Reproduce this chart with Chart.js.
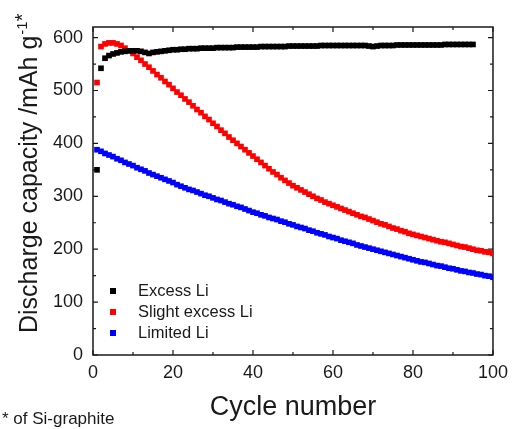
<!DOCTYPE html>
<html>
<head>
<meta charset="utf-8">
<script src="https://cdn.jsdelivr.net/npm/chart.js@4/dist/chart.umd.min.js"></script>
<style>
  body { margin: 0; background: #fff; }
</style>
</head>
<body>
<canvas id="grafico" width="515" height="429"></canvas>
<script>
// capacidade de descarga por ciclo (mAh/g), ciclo 1 = primeira posição
const EXCESS_LI = [
  350, 542, 561, 566, 569, 571, 573, 574, 575, 575,
  575, 574, 572, 570, 572, 573, 574, 575, 576, 577,
  577, 578, 578, 579, 579, 579, 580, 580, 580, 580,
  581, 581, 581, 581, 581, 582, 582, 582, 582, 582,
  582, 583, 583, 583, 583, 583, 583, 583, 584, 584,
  584, 584, 584, 584, 584, 584, 585, 585, 585, 585,
  585, 585, 585, 585, 585, 585, 585, 585, 584, 583,
  584, 585, 585, 585, 585, 586, 586, 586, 586, 586,
  586, 586, 586, 586, 586, 586, 586, 587, 587, 587,
  587, 587, 587, 587, 587
];
const SLIGHT_EXCESS_LI = [
  515, 583, 588, 590, 590, 588, 585, 580, 575, 570,
  563, 557, 550, 544, 537, 530, 524, 517, 511, 504,
  497, 491, 484, 478, 471, 464, 458, 451, 445, 438,
  432, 425, 419, 412, 406, 400, 394, 388, 382, 376,
  370, 364, 358, 352, 346, 341, 335, 330, 325, 320,
  316, 312, 308, 304, 300, 296, 293, 289, 286, 283,
  280, 277, 274, 271, 268, 265, 262, 260, 257, 254,
  251, 248, 246, 243, 240, 238, 235, 233, 230, 228,
  226, 224, 222, 220, 218, 216, 214, 213, 211, 209,
  207, 205, 204, 202, 200, 198, 197, 195, 194, 192
];
const LIMITED_LI = [
  388, 385, 381, 378, 375, 371, 368, 364, 361, 358,
  354, 351, 348, 344, 341, 338, 335, 332, 329, 326,
  322, 319, 316, 313, 311, 308, 305, 302, 300, 297,
  294, 292, 289, 286, 284, 281, 279, 276, 273, 270,
  268, 265, 263, 260, 258, 256, 253, 251, 248, 246,
  243, 241, 239, 236, 234, 231, 229, 227, 224, 222,
  220, 217, 215, 213, 211, 208, 206, 204, 202, 200,
  198, 196, 194, 192, 190, 188, 186, 184, 182, 180,
  178, 176, 175, 173, 171, 169, 168, 166, 164, 163,
  161, 159, 158, 156, 155, 153, 152, 150, 149, 147
];
const SERIES_LABELS = ['Excess Li', 'Slight excess Li', 'Limited Li'];
const X_TICKS = [0, 20, 40, 60, 80, 100];
const Y_TICKS = [0, 100, 200, 300, 400, 500, 600];

const CORES = ['#000000', '#ff0000', '#0000ff'];
const FONTE = '"Liberation Sans", Arial, sans-serif';

const pontos = arr => arr.map((v, i) => ({ x: i + 1, y: v }));

// moldura com marcas para dentro nos quatro lados
const moldura = {
  id: 'moldura',
  beforeDatasetsDraw(chart) {
    const { ctx, chartArea: a, scales: { x, y } } = chart;
    ctx.save();
    ctx.strokeStyle = '#1a1a1a';
    ctx.lineWidth = 1.5;
    ctx.strokeRect(a.left, a.top, a.right - a.left, a.bottom - a.top);
    ctx.lineWidth = 1.2;
    ctx.beginPath();
    const xs = [];
    X_TICKS.forEach((v, i) => {
      xs.push([v, 5]);
      if (i < X_TICKS.length - 1) xs.push([(v + X_TICKS[i + 1]) / 2, 3]);
    });
    xs.forEach(([v, len]) => {
      const px = x.getPixelForValue(v);
      ctx.moveTo(px, a.bottom); ctx.lineTo(px, a.bottom - len);
      ctx.moveTo(px, a.top); ctx.lineTo(px, a.top + len);
    });
    const ys = [];
    Y_TICKS.forEach((v, i) => {
      ys.push([v, 5]);
      if (i < Y_TICKS.length - 1) ys.push([(v + Y_TICKS[i + 1]) / 2, 3]);
    });
    ys.forEach(([v, len]) => {
      const py = y.getPixelForValue(v);
      ctx.moveTo(a.left, py); ctx.lineTo(a.left + len, py);
      ctx.moveTo(a.right, py); ctx.lineTo(a.right - len, py);
    });
    ctx.stroke();
    ctx.restore();
  },
  afterDraw(chart) {
    const { ctx, chartArea: a } = chart;
    ctx.save();
    ctx.fillStyle = '#1a1a1a';

    // legenda dentro do gráfico
    ctx.font = '16.5px ' + FONTE;
    ctx.textBaseline = 'middle';
    chart.data.datasets.forEach((ds, i) => {
      const cy = 291 + i * 21;
      ctx.fillStyle = ds.backgroundColor;
      ctx.fillRect(110, cy - 3, 6, 6);
      ctx.fillStyle = '#1a1a1a';
      ctx.fillText(ds.label, 138, cy);
    });

    // título do eixo y com sobrescrito
    ctx.save();
    ctx.translate(37, 333);
    ctx.rotate(-Math.PI / 2);
    ctx.textBaseline = 'alphabetic';
    ctx.textAlign = 'left';
    ctx.font = '25px ' + FONTE;
    const base = 'Discharge capacity /mAh g';
    ctx.fillText(base, 0, 0);
    let w = ctx.measureText(base).width;
    ctx.font = '15px ' + FONTE;
    ctx.fillText('-1', w + 1, -10);
    w += ctx.measureText('-1').width + 1;
    ctx.font = '20px ' + FONTE;
    ctx.fillText('*', w, -8);
    ctx.restore();

    // título do eixo x
    ctx.textAlign = 'center';
    ctx.textBaseline = 'alphabetic';
    ctx.font = '27px ' + FONTE;
    ctx.fillText('Cycle number', (a.left + a.right) / 2, 415);

    // nota de rodapé
    ctx.textAlign = 'left';
    ctx.font = '17px ' + FONTE;
    ctx.fillText('* of Si-graphite', 2, 424);
    ctx.restore();
  }
};

const serie = (label, data, cor) => ({
  label: label,
  data: pontos(data),
  showLine: false,
  backgroundColor: cor,
  borderWidth: 0,
  pointStyle: 'rect',
  pointRadius: 4,
  pointHoverRadius: 4
});

new Chart(document.getElementById('grafico'), {
  type: 'scatter',
  data: {
    datasets: [
      serie(SERIES_LABELS[0], EXCESS_LI, CORES[0]),
      serie(SERIES_LABELS[1], SLIGHT_EXCESS_LI, CORES[1]),
      serie(SERIES_LABELS[2], LIMITED_LI, CORES[2])
    ]
  },
  options: {
    responsive: false,
    animation: false,
    events: [],
    layout: { padding: { top: 27, right: 17, bottom: 0, left: 0 } },
    plugins: { legend: { display: false }, tooltip: { enabled: false } },
    scales: {
      x: {
        type: 'linear',
        min: 0, max: 100,
        grid: { display: false, drawTicks: false },
        border: { display: false },
        afterFit(s) { s.height = 74; },
        afterBuildTicks(s) { s.ticks = X_TICKS.map(v => ({ value: v })); },
        ticks: { color: '#1a1a1a', padding: 7, maxRotation: 0, font: { family: FONTE, size: 18 } }
      },
      y: {
        min: 0, max: 620,
        grid: { display: false, drawTicks: false },
        border: { display: false },
        afterFit(s) { s.width = 93; },
        afterBuildTicks(s) { s.ticks = Y_TICKS.map(v => ({ value: v })); },
        ticks: { color: '#1a1a1a', padding: 10, font: { family: FONTE, size: 18 } }
      }
    }
  },
  plugins: [moldura]
});
</script>
</body>
</html>
